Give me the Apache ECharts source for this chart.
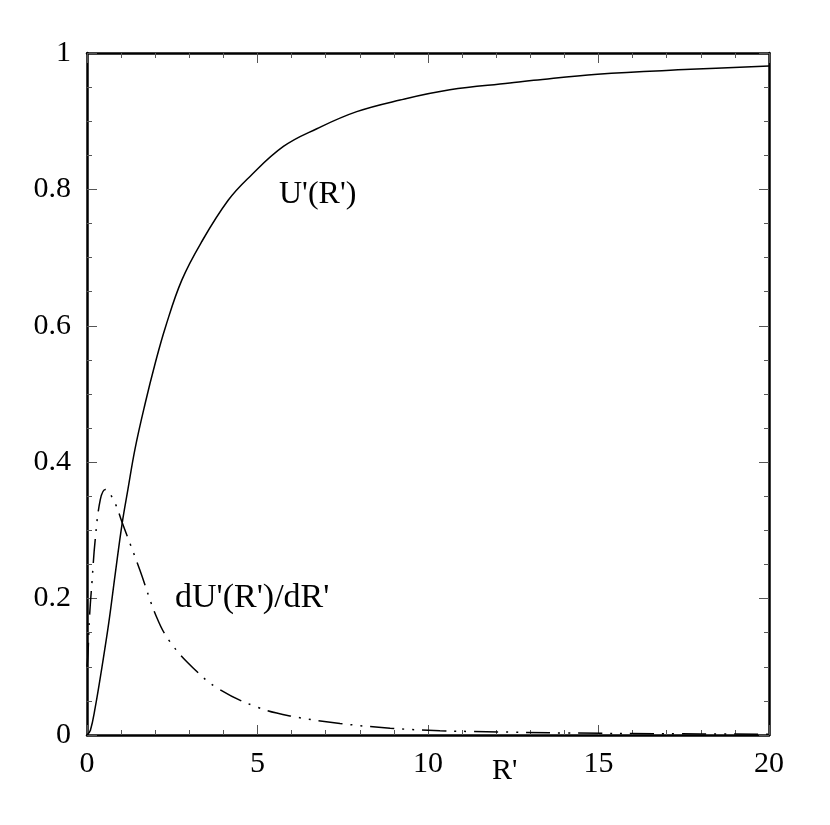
<!DOCTYPE html>
<html>
<head>
<meta charset="utf-8">
<script src="https://cdn.jsdelivr.net/npm/echarts@6/dist/echarts.min.js"></script>
<style>html,body{margin:0;padding:0;background:#fff;}#c{width:830px;height:825px;}</style>
</head>
<body>
<div id="c"></div>
<script>
// R' positions and values
const uR = [0, 0.1, 0.24, 0.44, 0.64, 0.83, 1.03, 1.2, 1.41, 1.7, 2.0, 2.3, 2.78, 3.36, 4.14, 4.78, 5.76, 6.74, 7.91, 9.18, 10.64, 12.4, 13.1, 14.97, 17.7, 20];
const uVal = [0, 0.007, 0.04, 0.10, 0.165, 0.237, 0.31, 0.36, 0.42, 0.485, 0.545, 0.598, 0.667, 0.723, 0.784, 0.819, 0.863, 0.889, 0.914, 0.931, 0.946, 0.956, 0.960, 0.969, 0.976, 0.981];
const dR = [0, 0.03, 0.07, 0.15, 0.24, 0.39, 0.54, 0.82, 1.02, 1.26, 1.55, 2.04, 2.43, 3.12, 3.85, 4.98, 5.95, 7.42, 8.89, 10.35, 11.72, 14, 17, 20];
const dVal = [0.10, 0.12, 0.17, 0.227, 0.286, 0.345, 0.36, 0.34, 0.313, 0.281, 0.242, 0.173, 0.137, 0.098, 0.068, 0.041, 0.028, 0.017, 0.010, 0.0063, 0.0048, 0.003, 0.0018, 0.0012];
const xTicks = [0, 5, 10, 15, 20];
const yTicks = [0, 0.2, 0.4, 0.6, 0.8, 1];
const seriesNames = ["U'(R')", "dU'(R')/dR'"];
const xTitle = "R'";

const font = "'Liberation Serif', 'DejaVu Serif', serif";
const zip = (a, b) => a.map((v, i) => [v, b[i]]);

const tickStyle = {show: true, inside: true, length: 10, lineStyle: {color: '#555', width: 1}};
const minorStyle = {show: true, length: 5, lineStyle: {color: '#555', width: 1}};
const lineStyle = {show: true, onZero: false, lineStyle: {color: '#000', width: 2.5}};

function xAxis(pos, labels) {
  return {
    type: 'value', position: pos, min: 0, max: 20, interval: 5,
    axisLine: lineStyle, axisTick: tickStyle,
    minorTick: Object.assign({splitNumber: 5}, minorStyle),
    splitLine: {show: false}, minorSplitLine: {show: false},
    axisLabel: {show: labels, color: '#000', fontFamily: font, fontSize: 30, margin: 14,
      formatter: v => xTicks.includes(v) ? String(v) : ''}
  };
}
function yAxis(pos, labels) {
  return {
    type: 'value', position: pos, min: 0, max: 1, interval: 0.2,
    axisLine: lineStyle, axisTick: tickStyle,
    minorTick: Object.assign({splitNumber: 4}, minorStyle),
    splitLine: {show: false}, minorSplitLine: {show: false},
    axisLabel: {show: labels, color: '#000', fontFamily: font, fontSize: 30, margin: 16,
      formatter: v => { const t = yTicks.find(y => Math.abs(y - v) < 1e-9); return t === undefined ? '' : String(t); }}
  };
}

const chart = echarts.init(document.getElementById('c'), null, {renderer: 'canvas'});
chart.setOption({
  animation: false,
  backgroundColor: '#fff',
  grid: {left: 87, top: 53, right: 61, bottom: 90, containLabel: false},
  xAxis: [xAxis('bottom', true), xAxis('top', false)],
  yAxis: [yAxis('left', true), yAxis('right', false)],
  series: [
    {name: seriesNames[0], type: 'line', data: zip(uR, uVal), smooth: 0.4, symbol: 'none',
     lineStyle: {color: '#000', width: 1.5}, z: 3},
    {name: seriesNames[1], type: 'line', data: zip(dR, dVal), smooth: 0.4, symbol: 'none',
     lineStyle: {color: '#000', width: 1.5, type: [24, 8, 2, 8, 2, 8]}, z: 3}
  ],
  graphic: [
    {type: 'text', left: 279, top: 179, style: {text: seriesNames[0], font: "32px " + font, fill: '#000'}},
    {type: 'text', left: 175, top: 581, style: {text: seriesNames[1], font: "34px " + font, fill: '#000'}},
    {type: 'text', left: 492, top: 756, style: {text: xTitle, font: "30px " + font, fill: '#000'}}
  ]
});
</script>
</body>
</html>
